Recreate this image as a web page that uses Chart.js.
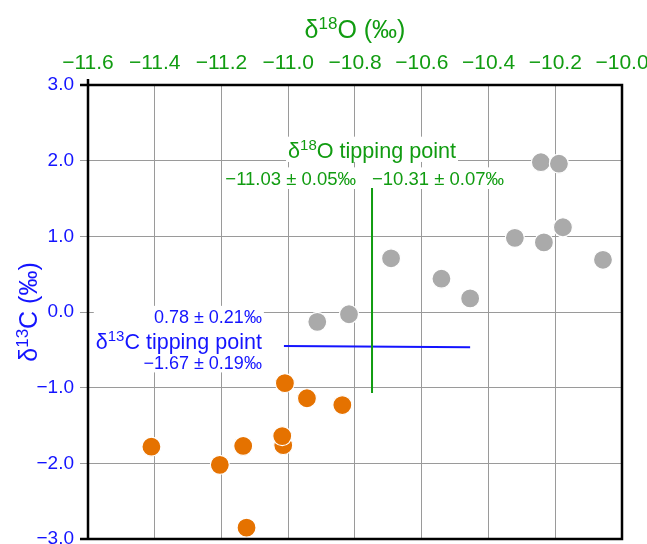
<!DOCTYPE html>
<html>
<head>
<meta charset="utf-8">
<script src="https://cdn.jsdelivr.net/npm/chart.js@4"></script>
<style>
html,body{margin:0;padding:0;background:#fff;overflow:hidden;}
#wrap{width:647px;height:544px;overflow:hidden;position:relative;}
canvas{display:block;}
</style>
</head>
<body>
<div id="wrap"><canvas id="c" width="647" height="560"></canvas></div>
<script>
// ---- data ----
const xTicks = [-11.6, -11.4, -11.2, -11.0, -10.8, -10.6, -10.4, -10.2, -10.0];
const yTicks = [-3, -2, -1, 0, 1, 2, 3];

const preX = [-11.41, -11.205, -11.135, -11.125, -11.015, -11.018, -11.01, -10.944, -10.838];
const preY = [-1.78, -2.02, -1.77, -2.85, -1.76, -1.64, -0.94, -1.14, -1.23];

const postX = [-10.913, -10.818, -10.692, -10.541, -10.455, -10.321, -10.243, -10.234, -10.189, -10.177, -10.057];
const postY = [-0.13, -0.03, 0.71, 0.44, 0.18, 0.98, 1.98, 0.92, 1.96, 1.12, 0.69];

const o18LineX = [-10.749, -10.749];
const o18LineY = [1.64, -1.07];
const c13LineX = [-11.013, -10.455];
const c13LineY = [-0.449, -0.466];

const GREEN = '#119c11';
const BLUE = '#1414ff';
const ORANGE = '#e57200';
const GRAY = '#aaaaaa';
const GRID = '#9a9a9a';

const FONT = '"Liberation Sans", Arial, sans-serif';

function pts(xs, ys){ return xs.map((x,i)=>({x:x, y:ys[i]})); }
function fmt(v){ return (Math.abs(v) < 1e-9 ? 0 : v).toFixed(1).replace('-', '\u2212'); }

// rich text: array of [text, isSuper]
function richWidth(ctx, parts, size){
  let w = 0;
  parts.forEach(p=>{
    ctx.font = (p[1] ? Math.round(size*0.68) : size) + 'px ' + FONT;
    w += ctx.measureText(p[0]).width;
  });
  return w;
}
function drawRich(ctx, parts, size, x, y, align){
  const w = richWidth(ctx, parts, size);
  let cx = align === 'right' ? x - w : (align === 'center' ? x - w/2 : x);
  ctx.textBaseline = 'alphabetic';
  ctx.textAlign = 'left';
  parts.forEach(p=>{
    const s = p[1] ? Math.round(size*0.68) : size;
    ctx.font = s + 'px ' + FONT;
    ctx.fillText(p[0], cx, p[1] ? y - size*0.38 : y);
    cx += ctx.measureText(p[0]).width;
  });
  return w;
}

// annotations (anchored in data coordinates)
const annotations = [
  {x:-10.749, y:2.14, align:'center', color:GREEN, lines:[{parts:[['δ',0],['18',1],['O tipping point',0]], size:21.6}]},
  {x:-10.797, y:1.76, align:'right', color:GREEN, lines:[{parts:[['\u221211.03 ± 0.05‰',0]], size:18.5}]},
  {x:-10.749, y:1.76, align:'left', color:GREEN, lines:[{parts:[['\u221210.31 ± 0.07‰',0]], size:18.5}]},
  {x:-11.079, y:-0.39, align:'right', color:BLUE, lines:[
    {parts:[['0.78 ± 0.21‰',0]], size:18, dy:-24.5},
    {parts:[['δ',0],['13',1],['C tipping point',0]], size:21.5, dy:0},
    {parts:[['\u22121.67 ± 0.19‰',0]], size:18, dy:21}
  ]}
];

const overlay = {
  id:'overlay',
  beforeDatasetsDraw(chart){
    const ctx = chart.ctx, xs = chart.scales.x, ys = chart.scales.y;
    ctx.save();
    annotations.forEach(a=>{
      const px = xs.getPixelForValue(a.x), py = ys.getPixelForValue(a.y);
      let minX=Infinity,maxX=-Infinity,minY=Infinity,maxY=-Infinity;
      a.lines.forEach(l=>{
        const w = richWidth(ctx, l.parts, l.size);
        const cy = py + (l.dy||0);
        let x0 = a.align==='right'? px-w : (a.align==='center'? px-w/2 : px);
        minX=Math.min(minX,x0-2); maxX=Math.max(maxX,x0+w+2);
        minY=Math.min(minY,cy-l.size*0.62); maxY=Math.max(maxY,cy+l.size*0.55);
      });
      ctx.fillStyle='#fff';
      ctx.fillRect(minX,minY,maxX-minX,maxY-minY);
      ctx.fillStyle=a.color;
      a.lines.forEach(l=>{
        const cy = py + (l.dy||0);
        drawRich(ctx, l.parts, l.size, px, cy + l.size*0.36, a.align);
      });
    });
    ctx.restore();
  },
  afterDraw(chart){
    const ctx = chart.ctx, ca = chart.chartArea;
    ctx.save();
    ctx.strokeStyle='#000'; ctx.lineWidth=2.5;
    ctx.beginPath();
    ctx.moveTo(ca.left-8, ca.top); ctx.lineTo(ca.right, ca.top);
    ctx.lineTo(ca.right, ca.bottom); ctx.lineTo(ca.left-8, ca.bottom);
    ctx.moveTo(ca.left, ca.top-6); ctx.lineTo(ca.left, ca.bottom);
    ctx.stroke();
    // axis titles
    ctx.fillStyle=GREEN;
    drawRich(ctx, [['δ',0],['18',1],['O (‰)',0]], 25, (ca.left+ca.right)/2, 38, 'center');
    ctx.translate(37, (ca.top+ca.bottom)/2);
    ctx.rotate(-Math.PI/2);
    ctx.fillStyle=BLUE;
    drawRich(ctx, [['δ',0],['13',1],['C (‰)',0]], 25, 0, 0, 'center');
    ctx.restore();
  }
};

new Chart(document.getElementById('c'), {
  type:'scatter',
  data:{datasets:[
    {label:'pre', data:pts(preX,preY), backgroundColor:ORANGE, borderColor:'#fff', borderWidth:1.2, pointRadius:9.5, pointHoverRadius:9.5},
    {label:'post', data:pts(postX,postY), backgroundColor:GRAY, borderColor:'#fff', borderWidth:1.2, pointRadius:9.5, pointHoverRadius:9.5},
    {label:'o18', data:pts(o18LineX,o18LineY), showLine:true, borderColor:GREEN, borderWidth:2, pointRadius:0, fill:false},
    {label:'c13', data:pts(c13LineX,c13LineY), showLine:true, borderColor:BLUE, borderWidth:2, pointRadius:0, fill:false}
  ]},
  options:{
    responsive:false, animation:false,
    layout:{padding:{top:0,left:0,right:25,bottom:21}},
    plugins:{legend:{display:false}, tooltip:{enabled:false}},
    scales:{
      x:{type:'linear', position:'top', min:-11.6, max:-10.0,
        afterBuildTicks(s){ s.ticks = xTicks.map(v=>({value:v})); },
        afterFit(s){ s.height = 85; s.paddingLeft = 0; s.paddingRight = 0; },
        ticks:{color:GREEN, font:{family:FONT, size:21}, padding:9, callback:v=>fmt(v), maxRotation:0, autoSkip:false},
        grid:{color:GRID, lineWidth:1, drawTicks:false},
        border:{display:false}
      },
      y:{type:'linear', min:-3, max:3,
        afterBuildTicks(s){ s.ticks = yTicks.map(v=>({value:v})); },
        afterFit(s){ s.width = 88; s.paddingTop = 0; s.paddingBottom = 0; },
        ticks:{color:BLUE, font:{family:FONT, size:19}, padding:6, callback:v=>fmt(v)},
        grid:{color:GRID, lineWidth:1, tickLength:8},
        border:{display:false}
      }
    }
  },
  plugins:[overlay]
});
</script>
</body>
</html>
